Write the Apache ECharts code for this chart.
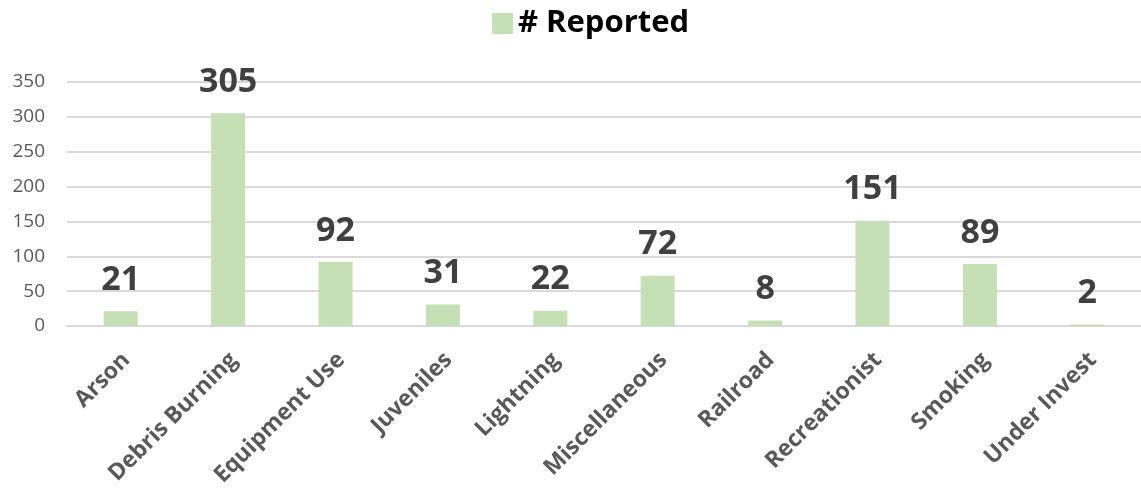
<!DOCTYPE html>
<html><head><meta charset="utf-8">
<script src="https://cdn.jsdelivr.net/npm/echarts@6/dist/echarts.min.js"></script>
<style>html,body{margin:0;padding:0;background:#fff}#c{width:1141px;height:494px}</style>
</head><body><div id="c"></div>
<script>
const categories = ["Arson","Debris Burning","Equipment Use","Juveniles","Lightning","Miscellaneous","Railroad","Recreationist","Smoking","Under Invest"];
const reported = [21,305,92,31,22,72,8,151,89,2];
const seriesName = "# Reported";
const yTicks = [0,50,100,150,200,250,300,350];

const chart = echarts.init(document.getElementById('c'), null, {renderer:'canvas'});
chart.setOption({
  animation:false,
  textStyle:{fontFamily:"'Open Sans', sans-serif"},
  legend:{
    data:[seriesName], left:487, top:3, itemWidth:21, itemHeight:21, itemGap:8,
    icon:'rect',
    textStyle:{fontSize:31, fontWeight:'bold', color:'#000', fontFamily:"'Open Sans', sans-serif"}
  },
  grid:{left:67, top:82, width:1084, height:244, containLabel:false},
  xAxis:{
    type:'category', data:categories,
    axisLine:{lineStyle:{color:'#d9d9d9', width:2}},
    axisTick:{show:false},
    axisLabel:{rotate:45, interval:0, margin:36, padding:[0,-8,0,0], fontSize:23, fontWeight:'bold', color:'#595959'}
  },
  yAxis:{
    type:'value', min:yTicks[0], max:yTicks[yTicks.length-1], interval:50,
    axisLine:{show:false}, axisTick:{show:false},
    splitLine:{lineStyle:{color:'#d9d9d9', width:2}},
    axisLabel:{fontSize:19, color:'#595959', margin:22}
  },
  series:[{
    name:seriesName, type:'bar', data:reported, barWidth:34,
    itemStyle:{color:'#C5E0B4'},
    label:{show:true, position:'top', distance:14, fontSize:34, fontWeight:'bold', color:'#404040'}
  }]
});
</script></body></html>
